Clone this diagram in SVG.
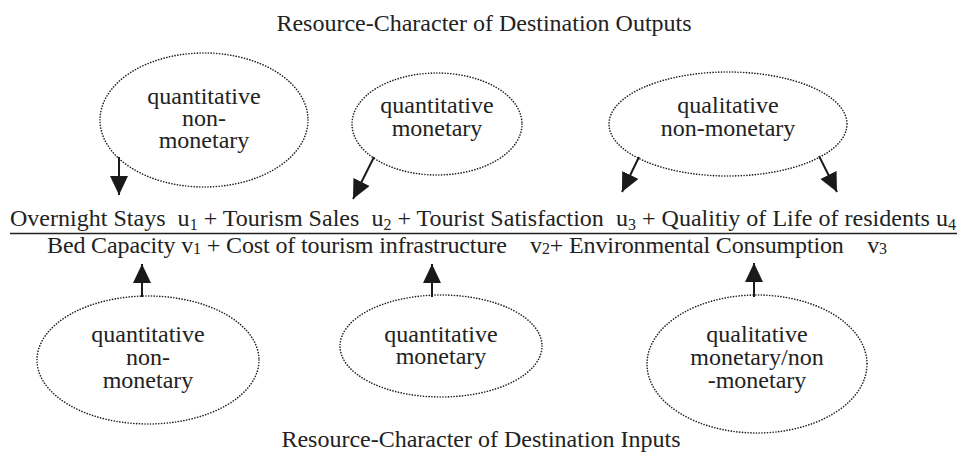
<svg xmlns="http://www.w3.org/2000/svg" width="967" height="452" viewBox="0 0 967 452">
  <defs>
    <marker id="head" markerUnits="userSpaceOnUse" markerWidth="19" markerHeight="18" viewBox="0 0 19 18" refX="19" refY="9" orient="auto">
      <path d="M0,0 L19,9 L0,18 Z" fill="#1a1a1a"/>
    </marker>
  </defs>
  <style>
    text { font-family: "Liberation Serif", "Times New Roman", serif; font-size: 24px; fill: #222; }
    .c { text-anchor: middle; }
    .bubble { fill: none; stroke: #222; stroke-width: 1.6; stroke-dasharray: 0.1 2.7; stroke-linecap: round; }
    .arrow { fill: none; stroke: #1a1a1a; stroke-width: 2; marker-end: url(#head); }
    .sub { font-size: 16px; }
  </style>
  <rect width="967" height="452" fill="#fff"/>

  <!-- headings -->
  <text id="title-outputs" class="c" x="484" y="31">Resource-Character of Destination Outputs</text>
  <text id="title-inputs" class="c" x="481" y="447">Resource-Character of Destination Inputs</text>

  <!-- ratio: outputs over inputs -->
  <g id="formula">
    <text x="10" y="226" textLength="946" lengthAdjust="spacing">Overnight Stays&#160; u<tspan class="sub" dy="4">1</tspan><tspan dy="-4"> + Tourism Sales&#160; u</tspan><tspan class="sub" dy="4">2</tspan><tspan dy="-4"> + Tourist Satisfaction&#160; u</tspan><tspan class="sub" dy="4">3</tspan><tspan dy="-4"> + Qualitiy of Life of residents u</tspan><tspan class="sub" dy="4">4</tspan></text>
    <line x1="10" y1="233.5" x2="957" y2="233.5" stroke="#222" stroke-width="1.4"/>
    <text x="47" y="253" textLength="840" lengthAdjust="spacing">Bed Capacity v<tspan class="sub" dy="1">1</tspan><tspan dy="-1"> + Cost of tourism infrastructure&#160;&#160;&#160; v</tspan><tspan class="sub" dy="1">2</tspan><tspan dy="-1">+ Environmental Consumption&#160;&#160;&#160; v</tspan><tspan class="sub" dy="1">3</tspan></text>
  </g>

  <!-- output characters -->
  <g id="out-quant-nonmon">
    <ellipse class="bubble" cx="204" cy="120" rx="104" ry="67"/>
    <text class="c" x="204" y="104">quantitative<tspan x="204" dy="22">non-</tspan><tspan x="204" dy="22">monetary</tspan></text>
  </g>
  <g id="out-quant-mon">
    <ellipse class="bubble" cx="437" cy="124" rx="85" ry="51"/>
    <text class="c" x="437" y="113">quantitative<tspan x="437" dy="23">monetary</tspan></text>
  </g>
  <g id="out-qual-nonmon">
    <ellipse class="bubble" cx="728" cy="124" rx="119" ry="52"/>
    <text class="c" x="728" y="113">qualitative<tspan x="728" dy="23">non-monetary</tspan></text>
  </g>

  <!-- input characters -->
  <g id="in-quant-nonmon">
    <ellipse class="bubble" cx="148" cy="360" rx="111" ry="64"/>
    <text class="c" x="148" y="342">quantitative<tspan x="148" dy="23">non-</tspan><tspan x="148" dy="23">monetary</tspan></text>
  </g>
  <g id="in-quant-mon">
    <ellipse class="bubble" cx="441" cy="346" rx="101" ry="51"/>
    <text class="c" x="441" y="342">quantitative<tspan x="441" dy="22">monetary</tspan></text>
  </g>
  <g id="in-qual-mixed">
    <ellipse class="bubble" cx="757" cy="364" rx="110" ry="69"/>
    <text class="c" x="757" y="342">qualitative<tspan x="757" dy="23">monetary/non</tspan><tspan x="757" dy="23">-monetary</tspan></text>
  </g>

  <!-- connectors -->
  <g id="connectors">
    <line class="arrow" x1="119" y1="157" x2="119" y2="195"/>
    <line class="arrow" x1="374" y1="157" x2="353" y2="199"/>
    <line class="arrow" x1="639" y1="157" x2="622" y2="192"/>
    <line class="arrow" x1="819" y1="156" x2="837" y2="192"/>
    <line class="arrow" x1="142" y1="297" x2="142" y2="264"/>
    <line class="arrow" x1="432" y1="297" x2="432" y2="264"/>
    <line class="arrow" x1="754" y1="297" x2="754" y2="263"/>
  </g>
</svg>
